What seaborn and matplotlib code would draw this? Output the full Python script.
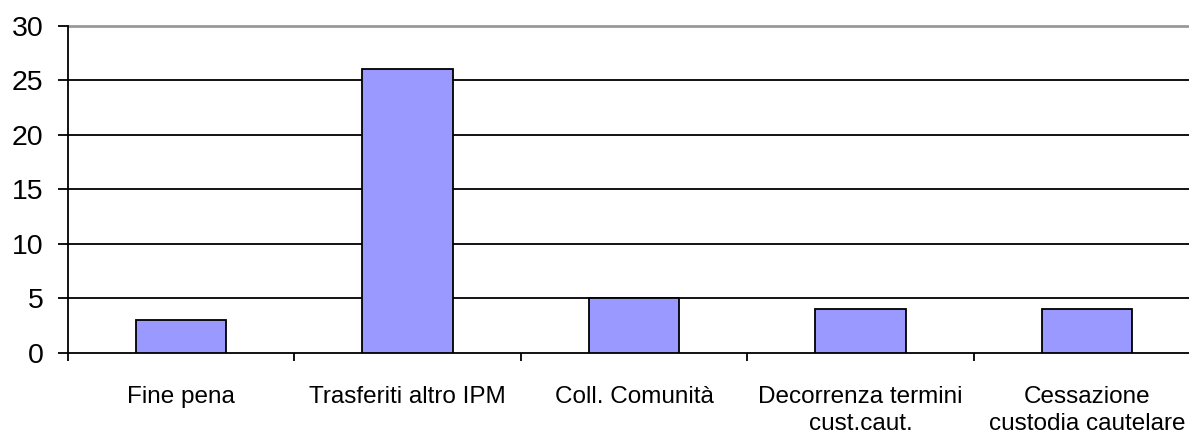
import matplotlib
matplotlib.use("Agg")
import matplotlib.pyplot as plt
import seaborn as sns
import pandas as pd

categories = ["Fine pena", "Trasferiti altro IPM", "Coll. Comunità",
              "Decorrenza termini\ncust.caut.", "Cessazione\ncustodia cautelare"]
values = [3, 26, 5, 4, 4]
yticks = [0, 5, 10, 15, 20, 25, 30]

sns.set_theme(style="white")
plt.rcParams['font.family'] = ['Liberation Sans', 'DejaVu Sans']
plt.rcParams['text.color'] = 'black'
plt.rcParams['xtick.color'] = 'black'
plt.rcParams['ytick.color'] = 'black'
plt.rcParams['xtick.labelcolor'] = 'black'
plt.rcParams['ytick.labelcolor'] = 'black'

df = pd.DataFrame({"cat": categories, "val": values})

fig = plt.figure(figsize=(11.89, 4.34), dpi=100)
W, H = 1189, 434
ax = fig.add_axes([68 / W, (H - 353) / H, (1200 - 68) / W, (353 - 25.5) / H])

sns.barplot(data=df, x="cat", y="val", color="#9999FF", width=0.4,
            edgecolor="black", linewidth=1.3, saturation=1, ax=ax, zorder=3)

ax.set_xlim(-0.5, len(categories) - 0.5)
ax.set_ylim(0, 30)
ax.set_yticks(yticks)
ax.set_xlabel("")
ax.set_ylabel("")

for y in yticks[1:-1]:
    ax.axhline(y, color="black", linewidth=1.3, zorder=1)
ax.axhline(30, color="#999999", linewidth=2, zorder=1, clip_on=False)

for s in ["top", "right"]:
    ax.spines[s].set_visible(False)
for s in ["left", "bottom"]:
    ax.spines[s].set_visible(True)
    ax.spines[s].set_color("black")
    ax.spines[s].set_linewidth(1.3)

# x ticks at category boundaries
ax.set_xticks([i + 0.5 for i in range(-1, len(categories))], minor=True)
ax.tick_params(axis="x", which="minor", length=6, width=1.3, color="black", direction="out", bottom=True)
ax.tick_params(axis="x", which="major", length=0, pad=24, labelsize=17.5, labelcolor="black")
ax.tick_params(axis="y", which="major", length=7.5, width=1.3, color="black", direction="out", left=True,
               labelsize=20.5, pad=10, labelcolor="black")
for lab in ax.get_xticklabels():
    lab.set_linespacing(1.3)
    lab.set_verticalalignment("top")

fig.savefig("out.png", dpi=100)
